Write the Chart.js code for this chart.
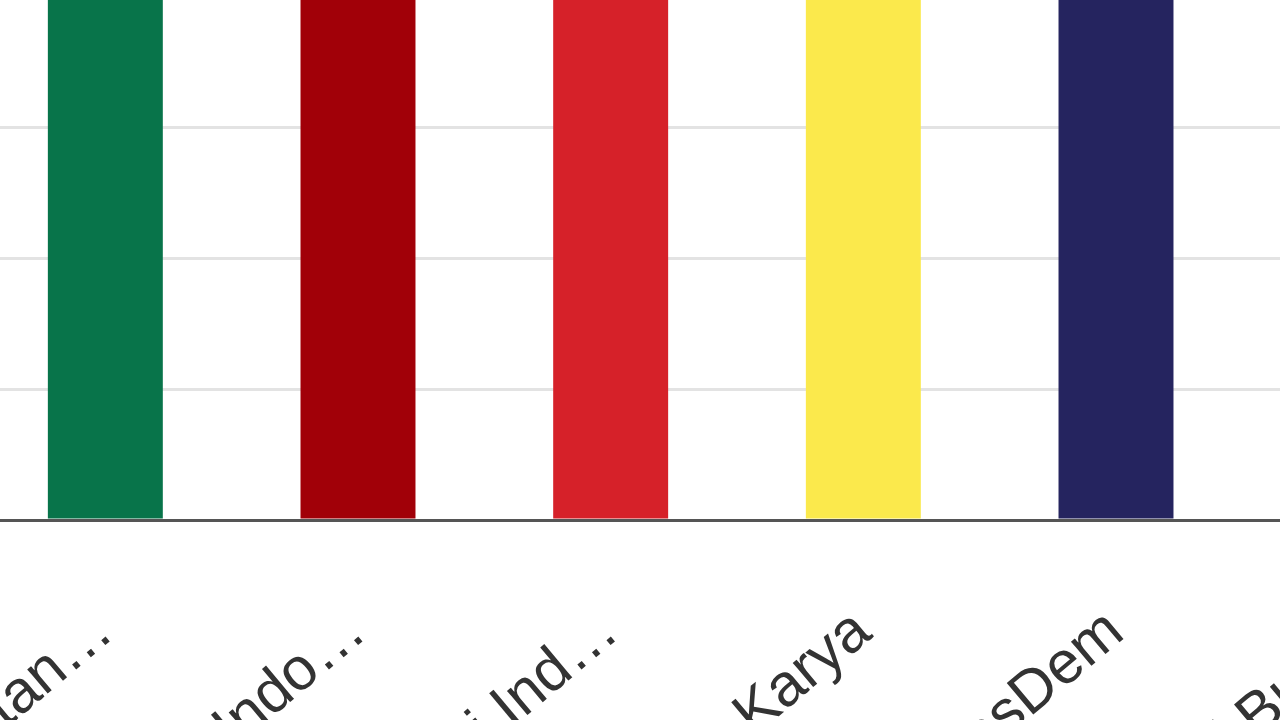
<!DOCTYPE html>
<html>
<head>
<meta charset="utf-8">
<script src="https://cdn.jsdelivr.net/npm/chart.js@4.4.1/dist/chart.umd.min.js"></script>
<style>
  html, body { margin: 0; padding: 0; width: 1280px; height: 720px; overflow: hidden; background: #fff; }
  #wrap { position: absolute; left: -21px; top: -4px; width: 1516px; height: 824px; }
</style>
</head>
<body>
<div id="wrap"><canvas id="partyChart"></canvas></div>
<script>
// Parties in ballot order (2024)
const categories = [
  "Partai Kebangkitan Bangsa",
  "Partai Gerakan Indonesia Raya",
  "Partai Demokrasi Indonesia Perjuangan",
  "Partai Golongan Karya",
  "Partai NasDem",
  "Partai Buruh"
];
// labels as they are shown under the bars (cut by the chart)
const tickLabels = [
  "Partai Kebangkitan…",
  "Partai Gerakan Indo…",
  "Partai Demokrasi Ind…",
  "Partai Golongan Karya",
  "Partai NasDem",
  "Partai Buruh"
];
// vote share, %
const voteShare = [10.62, 13.22, 16.72, 15.29, 9.66, 0.64];
const partyColors = ["#08744a", "#a10008", "#d62129", "#fbe94c", "#25245f", "#f07a22"];
const yTicks = [0, 2, 4, 6, 8];

const ctx = document.getElementById("partyChart").getContext("2d");
new Chart(ctx, {
  type: "bar",
  data: {
    labels: categories,
    datasets: [{
      label: "Suara (%)",
      data: voteShare,
      backgroundColor: partyColors,
      borderWidth: 0,
      barPercentage: 0.455,
      categoryPercentage: 1
    }]
  },
  options: {
    responsive: true,
    maintainAspectRatio: false,
    animation: false,
    plugins: { legend: { display: false }, tooltip: { enabled: false } },
    layout: { padding: 0 },
    scales: {
      x: {
        grid: { display: false },
        border: { display: true, color: "#555", width: 3 },
        ticks: {
          color: "#333",
          font: { family: "'Liberation Sans', Arial, sans-serif", size: 60 },
          minRotation: 40,
          maxRotation: 40,
          autoSkip: false,
          padding: 68,
          callback: (value, index) => tickLabels[index]
        },
        afterFit: (axis) => {
          axis.height = 300;
          axis.paddingLeft = 0;
          axis.paddingRight = 0;
        }
      },
      y: {
        min: yTicks[0],
        max: yTicks[yTicks.length - 1],
        afterBuildTicks: (axis) => { axis.ticks = yTicks.map((v) => ({ value: v })); },
        grid: { color: "#e3e3e3", lineWidth: 3, drawTicks: false },
        border: { display: false },
        ticks: { display: false },
        afterFit: (axis) => { axis.width = 0; }
      }
    }
  }
});
</script>
</body>
</html>
